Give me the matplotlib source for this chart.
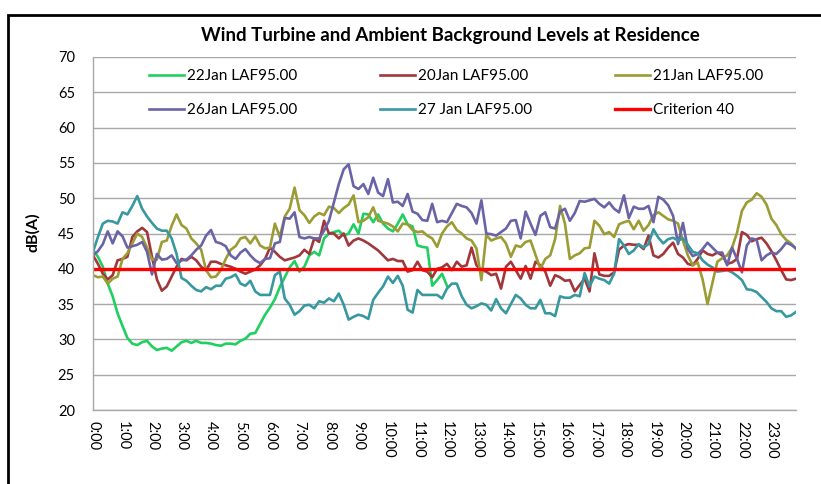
import numpy as np
import matplotlib.pyplot as plt
from matplotlib.patches import Rectangle

# 10 minute readings, 0:00 .. 23:50
hour_labels = ["0:00", "1:00", "2:00", "3:00", "4:00", "5:00", "6:00", "7:00",
               "8:00", "9:00", "10:00", "11:00", "12:00", "13:00", "14:00", "15:00",
               "16:00", "17:00", "18:00", "19:00", "20:00", "21:00", "22:00", "23:00"]

# 22 Jan only logged until noon
jan22 = [42.7, 41.7, 40.3, 37.9, 36.1, 33.7, 31.9, 30.2, 29.4, 29.2,
         29.6, 29.8, 29.0, 28.5, 28.7, 28.8, 28.4, 29.0, 29.6, 29.8,
         29.5, 29.8, 29.5, 29.5, 29.4, 29.2, 29.1, 29.4, 29.4, 29.3,
         29.8, 30.1, 30.8, 30.9, 32.2, 33.5, 34.5, 35.7, 37.4, 38.8,
         40.2, 41.1, 39.6, 40.3, 41.9, 42.4, 41.9, 44.3, 45.0, 45.2,
         45.4, 44.7, 45.0, 46.3, 45.0, 47.8, 47.7, 46.6, 47.7, 46.4,
         45.7, 45.3, 46.4, 47.7, 46.3, 46.0, 43.3, 43.1, 43.0, 37.6,
         38.4, 39.3, 37.6]

jan20 = [41.9, 40.7, 39.3, 38.5, 39.1, 41.2, 41.4, 41.7, 44.5, 45.3,
         45.8, 45.2, 41.7, 38.5, 36.9, 37.5, 38.9, 40.3, 41.4, 41.2,
         41.7, 41.2, 40.3, 39.8, 41.0, 41.0, 40.7, 40.5, 40.3, 40.0,
         39.6, 39.3, 39.6, 39.9, 40.5, 41.4, 43.0, 42.4, 41.7, 41.2,
         41.4, 41.6, 41.9, 42.7, 42.1, 44.3, 43.8, 46.8, 45.0, 45.0,
         44.3, 45.0, 43.3, 44.0, 44.3, 44.0, 43.6, 43.1, 42.6, 41.9,
         41.2, 41.4, 41.1, 41.1, 39.6, 39.8, 41.0, 39.8, 39.6, 38.8,
         40.0, 40.2, 40.7, 39.8, 41.0, 40.3, 40.5, 43.0, 40.5, 39.8,
         39.6, 39.1, 39.3, 37.2, 40.3, 41.0, 39.8, 38.6, 40.4, 38.6,
         41.0, 40.5, 39.6, 37.6, 39.1, 38.8, 38.3, 38.4, 36.8, 37.7,
         38.6, 36.8, 42.2, 39.2, 39.0, 39.0, 39.5, 42.7, 43.3, 43.5,
         43.4, 43.4, 42.8, 44.7, 41.9, 41.6, 42.1, 43.0, 43.7, 42.1,
         41.6, 40.7, 40.5, 41.4, 42.6, 42.1, 41.9, 42.3, 41.9, 40.7,
         40.9, 41.4, 45.2, 44.8, 43.9, 44.2, 44.4, 43.6, 42.5, 41.2,
         39.8, 38.5, 38.4, 38.6]

jan21 = [39.1, 38.8, 38.9, 37.9, 38.6, 38.9, 41.4, 42.2, 43.6, 45.0,
         44.5, 43.0, 41.3, 41.3, 43.8, 44.0, 46.1, 47.7, 46.2, 45.7,
         44.3, 43.6, 42.7, 39.8, 38.8, 38.9, 39.8, 41.4, 42.7, 43.2,
         44.3, 44.5, 43.6, 44.6, 43.3, 42.9, 43.0, 46.4, 44.5, 47.4,
         48.5, 51.5, 48.3, 47.6, 46.5, 47.4, 47.9, 47.6, 48.8, 48.6,
         47.9, 48.6, 49.1, 50.4, 46.6, 46.8, 47.3, 48.7, 46.8, 46.6,
         46.4, 46.0, 45.3, 46.4, 46.3, 45.5, 45.2, 45.3, 44.7, 44.3,
         43.1, 45.0, 46.0, 46.6, 45.5, 45.0, 44.3, 44.0, 42.9, 38.4,
         44.8, 44.0, 44.3, 44.5, 43.6, 41.7, 43.3, 43.1, 43.8, 44.0,
         42.0, 40.0, 41.4, 41.9, 44.2, 48.9, 46.4, 41.4, 41.9, 42.2,
         42.9, 43.0, 46.8, 46.1, 44.9, 45.2, 44.5, 46.3, 46.6, 46.8,
         45.6, 46.8, 45.4, 46.2, 47.6, 48.0, 47.5, 47.0, 46.8, 46.4,
         44.0, 41.9, 40.5, 40.9, 38.5, 35.0, 38.0, 41.0, 41.5, 41.9,
         43.0, 45.1, 48.2, 49.4, 49.8, 50.7, 50.2, 49.1, 47.1, 46.2,
         44.9, 44.1, 43.6, 42.8]

jan26 = [41.9, 42.5, 43.5, 45.3, 43.6, 45.3, 44.6, 43.0, 43.2, 43.4,
         43.8, 42.4, 39.2, 42.1, 41.3, 41.4, 41.9, 40.8, 41.2, 41.3,
         41.9, 42.7, 43.3, 44.7, 45.5, 43.8, 43.6, 43.2, 41.9, 41.4,
         42.3, 42.8, 41.9, 41.2, 40.8, 41.4, 41.5, 43.6, 43.8, 47.2,
         47.1, 48.0, 44.5, 44.3, 44.5, 44.3, 44.3, 45.4, 46.8, 49.4,
         52.0, 54.1, 54.8, 51.7, 51.3, 52.0, 50.6, 52.9, 50.8, 50.3,
         52.7, 49.4, 49.5, 48.9, 50.6, 48.1, 47.8, 46.9, 46.8, 49.2,
         46.6, 46.8, 46.6, 47.9, 49.2, 48.9, 48.7, 47.9, 46.4, 49.7,
         45.0, 44.9, 44.7, 45.2, 45.7, 46.8, 46.9, 44.3, 48.1, 46.4,
         44.8, 47.5, 48.0, 45.9, 45.7, 48.1, 48.5, 46.8, 47.9, 49.6,
         49.5, 49.7, 49.9, 49.2, 48.7, 49.4, 48.5, 48.0, 50.4, 47.2,
         48.8, 48.5, 48.5, 48.9, 46.6, 50.2, 49.8, 49.0, 47.5, 43.5,
         46.5, 42.8, 41.8, 42.1, 42.8, 43.7, 43.0, 42.3, 42.3, 40.5,
         43.0, 41.4, 39.5, 43.3, 44.3, 44.1, 41.2, 41.9, 42.3, 42.1,
         42.8, 43.7, 43.4, 42.9]

jan27 = [42.4, 44.5, 46.4, 46.8, 46.7, 46.4, 48.0, 47.7, 48.9, 50.3,
         48.5, 47.4, 46.5, 45.7, 45.4, 45.4, 44.3, 42.1, 38.7, 38.3,
         37.6, 37.0, 36.8, 37.4, 37.1, 37.6, 37.6, 38.6, 38.8, 39.2,
         37.9, 37.6, 38.3, 36.8, 36.3, 36.3, 36.3, 39.1, 39.6, 35.8,
         34.9, 33.5, 34.0, 34.8, 34.9, 34.4, 35.4, 35.2, 35.8, 35.4,
         36.5, 34.9, 32.8, 33.2, 33.5, 33.3, 32.9, 35.6, 36.6, 37.5,
         38.9, 38.0, 39.0, 37.6, 34.2, 33.8, 37.0, 36.3, 36.3, 36.3,
         36.3, 35.8, 37.2, 37.9, 37.9, 36.1, 34.9, 34.4, 34.7, 35.1,
         34.9, 34.1, 35.7, 34.4, 33.7, 35.0, 36.3, 35.8, 34.9, 34.4,
         34.4, 35.6, 33.7, 33.7, 33.3, 36.1, 35.9, 35.9, 36.3, 36.1,
         39.4, 37.5, 38.9, 38.6, 38.4, 37.9, 39.3, 44.2, 43.3, 42.1,
         42.6, 43.5, 43.0, 43.5, 45.6, 44.4, 43.6, 44.2, 44.4, 44.0,
         44.3, 43.4, 42.4, 42.2, 41.2, 40.6, 40.2, 39.6, 39.7, 39.8,
         39.5, 39.0, 38.4, 37.1, 37.0, 36.7, 36.0, 35.3, 34.4, 34.0,
         34.0, 33.2, 33.4, 33.9]

criterion = 40

plt.rcParams['font.family'] = ['Lato', 'DejaVu Sans']

W, H = 821, 484
fig = plt.figure(figsize=(W / 100, H / 100), dpi=100)
ax = fig.add_axes([93 / W, 1 - 410 / H, (796 - 93) / W, (410 - 57) / H])

lw = 1.9
def draw(vals, color, label):
    return ax.plot(np.arange(len(vals)), vals, color=color, lw=lw, label=label,
                   solid_joinstyle='round')[0]

l22 = draw(jan22, '#1fd060', '22Jan LAF95.00')
l20 = draw(jan20, '#a0373a', '20Jan LAF95.00')
l21 = draw(jan21, '#9c9c34', '21Jan LAF95.00')
l26 = draw(jan26, '#6a64a6', '26Jan LAF95.00')
l27 = draw(jan27, '#3898a0', '27 Jan LAF95.00')
lc = ax.axhline(criterion, color='#ff0000', lw=2.4, label='Criterion 40')

n = len(jan20)
ax.set_xlim(0, n - 1)
ax.set_ylim(20, 70)
ax.set_yticks(np.arange(20, 71, 5))
ax.set_xticks(np.arange(0, n, 6))
ax.set_xticklabels(hour_labels, rotation=270, fontsize=10.5)
ax.tick_params(axis='y', labelsize=10.5, length=0, pad=13)
ax.tick_params(axis='x', length=0, pad=8)
ax.grid(axis='y', color='#a8a8a8', lw=1.0)
ax.set_axisbelow(True)
for s in ['top', 'right']:
    ax.spines[s].set_visible(False)
for s in ['left', 'bottom']:
    ax.spines[s].set_color('#a8a8a8')
    ax.spines[s].set_linewidth(1.0)

# column-major fill for three columns
handles = [l22, l26, l20, l27, l21, lc]
top = 1 - 12 / 353
ax.legend(handles=handles, ncol=3, loc='upper left',
          bbox_to_anchor=(56 / 703, 0.7, 614 / 703, top - 0.7),
          mode='expand', frameon=False, fontsize=11, handlelength=2.3,
          handletextpad=0.2, labelspacing=1.3, borderaxespad=0, borderpad=0)

fig.text(450 / W, 1 - 36 / H, 'Wind Turbine and Ambient Background Levels at Residence',
         ha='center', va='center', fontsize=13.5, fontweight='bold')
fig.text(33 / W, 1 - 232 / H, 'dB(A)', rotation=90, ha='center', va='center',
         fontsize=11.5, fontweight='bold')

fig.patches.append(Rectangle((8 / W, -0.1), 1.0, 1.1 - 15 / H, transform=fig.transFigure,
                             fill=False, ec='black', lw=2))

fig.savefig('out.png', dpi=100)
